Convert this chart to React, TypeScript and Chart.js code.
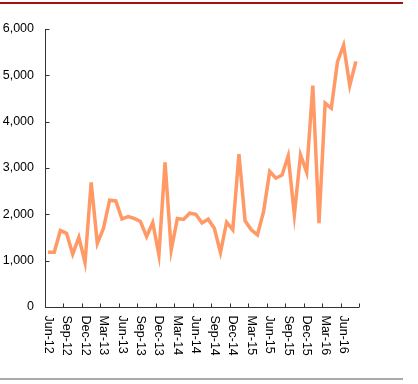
import React, { useEffect, useRef } from "react";
import { Chart, registerables } from "chart.js";

Chart.register(...registerables);

const months: string[] = [
  "Jun-12", "Jul-12", "Aug-12", "Sep-12", "Oct-12", "Nov-12", "Dec-12", "Jan-13", "Feb-13",
  "Mar-13", "Apr-13", "May-13", "Jun-13", "Jul-13", "Aug-13", "Sep-13", "Oct-13", "Nov-13",
  "Dec-13", "Jan-14", "Feb-14", "Mar-14", "Apr-14", "May-14", "Jun-14", "Jul-14", "Aug-14",
  "Sep-14", "Oct-14", "Nov-14", "Dec-14", "Jan-15", "Feb-15", "Mar-15", "Apr-15", "May-15",
  "Jun-15", "Jul-15", "Aug-15", "Sep-15", "Oct-15", "Nov-15", "Dec-15", "Jan-16", "Feb-16",
  "Mar-16", "Apr-16", "May-16", "Jun-16", "Jul-16", "Aug-16",
];

const values: number[] = [
  1180, 1180, 1650, 1590, 1140, 1505, 960, 2690, 1375, 1700, 2305, 2290, 1900, 1950, 1910,
  1845, 1520, 1820, 1125, 3120, 1230, 1910, 1890, 2025, 2000, 1815, 1895, 1700, 1180, 1830,
  1665, 3300, 1860, 1665, 1555, 2060, 2925, 2780, 2850, 3260, 1990, 3285, 2910, 4780, 1810,
  4400, 4290, 5290, 5650, 4780, 5300,
];

const yTicks: number[] = [0, 1000, 2000, 3000, 4000, 5000, 6000];
const labelEvery = 3;

const FONT = "'Liberation Sans', Arial, sans-serif";

export default function App() {
  const ref = useRef<HTMLCanvasElement | null>(null);

  useEffect(() => {
    document.body.style.margin = "0";
    const canvas = ref.current;
    if (!canvas) return;

    const decor = {
      id: "decor",
      afterDraw(chart: any) {
        const ctx = chart.ctx;
        const x = chart.scales.x;
        const y = chart.scales.y;
        const area = chart.chartArea;
        ctx.save();
        // top red rule
        ctx.strokeStyle = "#A50F15";
        ctx.lineWidth = 2;
        ctx.beginPath();
        ctx.moveTo(0, 3);
        ctx.lineTo(403, 3);
        ctx.stroke();
        // bottom gray rule
        ctx.strokeStyle = "#8c8c8c";
        ctx.lineWidth = 1.5;
        ctx.beginPath();
        ctx.moveTo(0, 379);
        ctx.lineTo(403, 379);
        ctx.stroke();
        // axes
        ctx.strokeStyle = "#333";
        ctx.lineWidth = 1;
        const ax = Math.round(area.left) + 0.5;
        const ay = Math.round(area.bottom) + 0.5;
        ctx.beginPath();
        ctx.moveTo(ax, area.top);
        ctx.lineTo(ax, ay);
        ctx.lineTo(area.right, ay);
        ctx.stroke();
        // y ticks inward
        ctx.beginPath();
        for (const v of yTicks) {
          const py = Math.round(y.getPixelForValue(v)) + 0.5;
          ctx.moveTo(ax, py);
          ctx.lineTo(ax + 4, py);
        }
        // x ticks inward at boundaries every 3 categories
        for (let i = 0; i <= months.length; i += labelEvery) {
          const px = Math.round(x.getPixelForValue(i - 0.5)) + 0.5;
          ctx.moveTo(px, ay);
          ctx.lineTo(px, ay - 4);
        }
        ctx.stroke();
        // x labels rotated clockwise
        ctx.fillStyle = "#000";
        ctx.font = `12.5px ${FONT}`;
        ctx.textAlign = "left";
        ctx.textBaseline = "middle";
        for (let i = 0; i < months.length; i += labelEvery) {
          const px = x.getPixelForValue(i);
          ctx.save();
          ctx.translate(px, ay + 8);
          ctx.rotate(Math.PI / 2);
          ctx.fillText(months[i], 0, 0);
          ctx.restore();
        }
        ctx.restore();
      },
    };

    const chart = new Chart(canvas, {
      type: "line",
      data: {
        labels: months,
        datasets: [
          {
            data: values,
            borderColor: "#FF9966",
            borderWidth: 3.5,
            pointRadius: 0,
            tension: 0,
            fill: false,
          },
        ],
      },
      options: {
        responsive: false,
        animation: false,
        layout: { padding: { top: 29, right: 59, left: 0, bottom: 0 } },
        plugins: { legend: { display: false }, tooltip: { enabled: false } },
        scales: {
          x: {
            type: "category",
            offset: true,
            grid: { display: false, drawTicks: false },
            border: { display: false },
            ticks: { display: false },
            afterFit: (s: any) => {
              s.height = 77;
            },
          },
          y: {
            min: 0,
            max: 6000,
            grid: { display: false, drawTicks: false },
            border: { display: false },
            ticks: {
              stepSize: 1000,
              padding: 11,
              color: "#000",
              font: { family: FONT, size: 12.5 },
              callback: (v: any) => Number(v).toLocaleString("en-US"),
            },
            afterFit: (s: any) => {
              s.width = 45;
            },
          },
        },
      },
      plugins: [decor],
    });

    return () => chart.destroy();
  }, []);

  return (
    <div style={{ width: 418, height: 384 }}>
      <canvas ref={ref} width={418} height={384} style={{ display: "block" }} />
    </div>
  );
}
